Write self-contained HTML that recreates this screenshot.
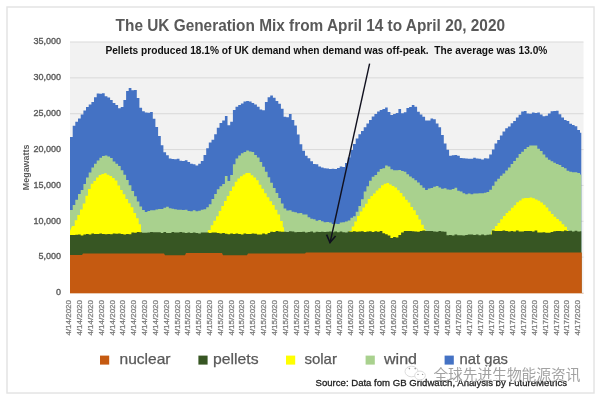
<!DOCTYPE html>
<html><head><meta charset="utf-8"><style>
html,body{margin:0;padding:0;background:#fff;}
svg{display:block;}
text{font-family:"Liberation Sans",sans-serif;}
.ax{font-size:9px;fill:#595959;stroke:#595959;stroke-width:0.35;}
.xl{font-size:8px;fill:#7a7a7a;stroke:#7a7a7a;stroke-width:0.25;}
.mw{font-size:9px;fill:#595959;font-weight:bold;}
.title{font-size:16px;font-weight:bold;fill:#595959;}
.ann{font-size:10.2px;font-weight:bold;fill:#111;}
.leg{font-size:14.5px;fill:#595959;stroke:#595959;stroke-width:0.25;}
.src{font-size:9.8px;fill:#222;stroke:#222;stroke-width:0.3;}
.wm text{font-family:"Liberation Sans","Noto Sans CJK SC",sans-serif;font-size:14.5px;}
</style></head><body>
<svg width="600" height="401" viewBox="0 0 600 401">
<rect x="0" y="0" width="600" height="401" fill="#ffffff"/>
<rect x="7" y="7" width="587" height="386" fill="#ffffff" stroke="#e4e4e4" stroke-width="1.5"/>
<rect x="70" y="42" width="513.5" height="251" fill="#f2f2f2"/>
<line x1="70" x2="583.5" y1="293.00" y2="293.00" stroke="#d9d9d9" stroke-width="1"/>
<line x1="70" x2="583.5" y1="257.14" y2="257.14" stroke="#d9d9d9" stroke-width="1"/>
<line x1="70" x2="583.5" y1="221.29" y2="221.29" stroke="#d9d9d9" stroke-width="1"/>
<line x1="70" x2="583.5" y1="185.43" y2="185.43" stroke="#d9d9d9" stroke-width="1"/>
<line x1="70" x2="583.5" y1="149.57" y2="149.57" stroke="#d9d9d9" stroke-width="1"/>
<line x1="70" x2="583.5" y1="113.71" y2="113.71" stroke="#d9d9d9" stroke-width="1"/>
<line x1="70" x2="583.5" y1="77.86" y2="77.86" stroke="#d9d9d9" stroke-width="1"/>
<line x1="70" x2="583.5" y1="42.00" y2="42.00" stroke="#d9d9d9" stroke-width="1"/>
<polygon points="70.0,293 70.0,137.0 72.7,137.0 72.7,125.7 75.3,125.7 75.3,121.8 78.0,121.8 78.0,118.5 80.7,118.5 80.7,114.4 83.4,114.4 83.4,110.5 86.0,110.5 86.0,106.9 88.7,106.9 88.7,104.6 91.4,104.6 91.4,102.0 94.0,102.0 94.0,97.2 96.7,97.2 96.7,93.6 99.4,93.6 99.4,93.7 102.0,93.7 102.0,93.2 104.7,93.2 104.7,96.2 107.4,96.2 107.4,97.4 110.1,97.4 110.1,100.0 112.7,100.0 112.7,103.1 115.4,103.1 115.4,104.9 118.1,104.9 118.1,108.2 120.7,108.2 120.7,107.0 123.4,107.0 123.4,100.0 126.1,100.0 126.1,91.0 128.7,91.0 128.7,88.1 131.4,88.1 131.4,90.3 134.1,90.3 134.1,90.0 136.8,90.0 136.8,98.1 139.4,98.1 139.4,107.8 142.1,107.8 142.1,111.2 144.8,111.2 144.8,112.5 147.4,112.5 147.4,112.7 150.1,112.7 150.1,111.9 152.8,111.9 152.8,118.8 155.4,118.8 155.4,127.0 158.1,127.0 158.1,135.9 160.8,135.9 160.8,145.2 163.4,145.2 163.4,152.2 166.1,152.2 166.1,155.3 168.8,155.3 168.8,158.5 171.5,158.5 171.5,159.1 174.1,159.1 174.1,159.3 176.8,159.3 176.8,158.8 179.5,158.8 179.5,160.8 182.1,160.8 182.1,161.1 184.8,161.1 184.8,160.3 187.5,160.3 187.5,161.9 190.1,161.9 190.1,163.7 192.8,163.7 192.8,164.3 195.5,164.3 195.5,165.4 198.2,165.4 198.2,163.7 200.8,163.7 200.8,160.9 203.5,160.9 203.5,155.1 206.2,155.1 206.2,148.2 208.8,148.2 208.8,142.5 211.5,142.5 211.5,139.7 214.2,139.7 214.2,134.3 216.8,134.3 216.8,127.8 219.5,127.8 219.5,122.9 222.2,122.9 222.2,120.6 224.9,120.6 224.9,115.9 227.5,115.9 227.5,125.2 230.2,125.2 230.2,121.7 232.9,121.7 232.9,110.0 235.5,110.0 235.5,106.7 238.2,106.7 238.2,105.0 240.9,105.0 240.9,103.4 243.5,103.4 243.5,101.6 246.2,101.6 246.2,101.1 248.9,101.1 248.9,101.5 251.6,101.5 251.6,102.9 254.2,102.9 254.2,104.5 256.9,104.5 256.9,106.7 259.6,106.7 259.6,109.6 262.2,109.6 262.2,110.3 264.9,110.3 264.9,102.1 267.6,102.1 267.6,97.3 270.2,97.3 270.2,95.6 272.9,95.6 272.9,97.7 275.6,97.7 275.6,100.9 278.3,100.9 278.3,103.7 280.9,103.7 280.9,108.8 283.6,108.8 283.6,116.8 286.3,116.8 286.3,117.2 288.9,117.2 288.9,114.1 291.6,114.1 291.6,119.9 294.3,119.9 294.3,125.6 296.9,125.6 296.9,134.5 299.6,134.5 299.6,144.2 302.3,144.2 302.3,150.7 305.0,150.7 305.0,155.8 307.6,155.8 307.6,158.2 310.3,158.2 310.3,161.2 313.0,161.2 313.0,164.1 315.6,164.1 315.6,164.3 318.3,164.3 318.3,166.5 321.0,166.5 321.0,167.4 323.6,167.4 323.6,168.3 326.3,168.3 326.3,168.6 329.0,168.6 329.0,169.0 331.7,169.0 331.7,168.7 334.3,168.7 334.3,169.0 337.0,169.0 337.0,168.1 339.7,168.1 339.7,166.4 342.3,166.4 342.3,166.9 345.0,166.9 345.0,163.1 347.7,163.1 347.7,157.4 350.4,157.4 350.4,150.0 353.0,150.0 353.0,143.9 355.7,143.9 355.7,138.6 358.4,138.6 358.4,134.2 361.0,134.2 361.0,131.0 363.7,131.0 363.7,127.2 366.4,127.2 366.4,123.5 369.0,123.5 369.0,119.9 371.7,119.9 371.7,116.4 374.4,116.4 374.4,114.1 377.1,114.1 377.1,111.4 379.7,111.4 379.7,110.1 382.4,110.1 382.4,109.0 385.1,109.0 385.1,107.6 387.7,107.6 387.7,112.1 390.4,112.1 390.4,115.0 393.1,115.0 393.1,114.0 395.7,114.0 395.7,113.1 398.4,113.1 398.4,109.1 401.1,109.1 401.1,113.2 403.8,113.2 403.8,112.2 406.4,112.2 406.4,108.1 409.1,108.1 409.1,107.1 411.8,107.1 411.8,105.0 414.4,105.0 414.4,106.7 417.1,106.7 417.1,111.7 419.8,111.7 419.8,114.5 422.4,114.5 422.4,116.7 425.1,116.7 425.1,120.4 427.8,120.4 427.8,120.4 430.5,120.4 430.5,118.6 433.1,118.6 433.1,119.3 435.8,119.3 435.8,123.4 438.5,123.4 438.5,127.3 441.1,127.3 441.1,135.1 443.8,135.1 443.8,143.4 446.5,143.4 446.5,149.7 449.1,149.7 449.1,155.8 451.8,155.8 451.8,155.2 454.5,155.2 454.5,154.9 457.2,154.9 457.2,155.7 459.8,155.7 459.8,158.0 462.5,158.0 462.5,158.2 465.2,158.2 465.2,158.4 467.8,158.4 467.8,158.7 470.5,158.7 470.5,158.7 473.2,158.7 473.2,157.7 475.8,157.7 475.8,158.4 478.5,158.4 478.5,158.8 481.2,158.8 481.2,159.6 483.9,159.6 483.9,158.2 486.5,158.2 486.5,158.5 489.2,158.5 489.2,154.5 491.9,154.5 491.9,149.4 494.5,149.4 494.5,143.4 497.2,143.4 497.2,140.0 499.9,140.0 499.9,135.4 502.5,135.4 502.5,131.6 505.2,131.6 505.2,128.3 507.9,128.3 507.9,126.4 510.6,126.4 510.6,123.3 513.2,123.3 513.2,120.9 515.9,120.9 515.9,117.6 518.6,117.6 518.6,114.8 521.2,114.8 521.2,111.5 523.9,111.5 523.9,111.1 526.6,111.1 526.6,113.6 529.2,113.6 529.2,113.7 531.9,113.7 531.9,112.5 534.6,112.5 534.6,113.1 537.3,113.1 537.3,112.4 539.9,112.4 539.9,114.5 542.6,114.5 542.6,116.3 545.3,116.3 545.3,115.8 547.9,115.8 547.9,113.4 550.6,113.4 550.6,111.2 553.3,111.2 553.3,111.1 555.9,111.1 555.9,110.7 558.6,110.7 558.6,114.3 561.3,114.3 561.3,117.6 564.0,117.6 564.0,120.1 566.6,120.1 566.6,121.0 569.3,121.0 569.3,123.8 572.0,123.8 572.0,125.0 574.6,125.0 574.6,126.3 577.3,126.3 577.3,130.0 580.0,130.0 580.0,132.8 581.3,132.8 581.3,134.0 581.3,293" fill="#4472C4"/>
<polygon points="70.0,293 70.0,210.0 72.7,210.0 72.7,204.9 75.3,204.9 75.3,199.7 78.0,199.7 78.0,193.9 80.7,193.9 80.7,189.9 83.4,189.9 83.4,184.0 86.0,184.0 86.0,177.5 88.7,177.5 88.7,172.6 91.4,172.6 91.4,167.6 94.0,167.6 94.0,163.7 96.7,163.7 96.7,160.4 99.4,160.4 99.4,157.7 102.0,157.7 102.0,156.0 104.7,156.0 104.7,155.6 107.4,155.6 107.4,156.4 110.1,156.4 110.1,158.0 112.7,158.0 112.7,161.4 115.4,161.4 115.4,163.8 118.1,163.8 118.1,166.0 120.7,166.0 120.7,170.3 123.4,170.3 123.4,174.8 126.1,174.8 126.1,179.9 128.7,179.9 128.7,185.2 131.4,185.2 131.4,191.0 134.1,191.0 134.1,196.2 136.8,196.2 136.8,201.4 139.4,201.4 139.4,206.6 142.1,206.6 142.1,209.9 144.8,209.9 144.8,211.9 147.4,211.9 147.4,211.0 150.1,211.0 150.1,210.2 152.8,210.2 152.8,210.2 155.4,210.2 155.4,209.4 158.1,209.4 158.1,209.1 160.8,209.1 160.8,209.0 163.4,209.0 163.4,207.7 166.1,207.7 166.1,206.8 168.8,206.8 168.8,208.3 171.5,208.3 171.5,208.7 174.1,208.7 174.1,209.2 176.8,209.2 176.8,209.7 179.5,209.7 179.5,209.8 182.1,209.8 182.1,210.1 184.8,210.1 184.8,209.8 187.5,209.8 187.5,210.9 190.1,210.9 190.1,211.2 192.8,211.2 192.8,210.3 195.5,210.3 195.5,211.3 198.2,211.3 198.2,210.7 200.8,210.7 200.8,209.8 203.5,209.8 203.5,209.3 206.2,209.3 206.2,207.3 208.8,207.3 208.8,204.2 211.5,204.2 211.5,199.0 214.2,199.0 214.2,194.1 216.8,194.1 216.8,189.2 219.5,189.2 219.5,186.2 222.2,186.2 222.2,183.9 224.9,183.9 224.9,175.9 227.5,175.9 227.5,181.1 230.2,181.1 230.2,175.0 232.9,175.0 232.9,164.3 235.5,164.3 235.5,158.4 238.2,158.4 238.2,155.4 240.9,155.4 240.9,153.2 243.5,153.2 243.5,152.1 246.2,152.1 246.2,150.5 248.9,150.5 248.9,151.6 251.6,151.6 251.6,151.9 254.2,151.9 254.2,155.0 256.9,155.0 256.9,157.4 259.6,157.4 259.6,162.0 262.2,162.0 262.2,166.8 264.9,166.8 264.9,171.8 267.6,171.8 267.6,177.2 270.2,177.2 270.2,182.7 272.9,182.7 272.9,188.0 275.6,188.0 275.6,192.9 278.3,192.9 278.3,198.1 280.9,198.1 280.9,203.5 283.6,203.5 283.6,208.4 286.3,208.4 286.3,210.4 288.9,210.4 288.9,210.2 291.6,210.2 291.6,211.8 294.3,211.8 294.3,212.2 296.9,212.2 296.9,213.2 299.6,213.2 299.6,213.0 302.3,213.0 302.3,214.5 305.0,214.5 305.0,214.4 307.6,214.4 307.6,217.3 310.3,217.3 310.3,218.7 313.0,218.7 313.0,219.2 315.6,219.2 315.6,220.7 318.3,220.7 318.3,220.1 321.0,220.1 321.0,221.2 323.6,221.2 323.6,222.2 326.3,222.2 326.3,221.9 329.0,221.9 329.0,222.4 331.7,222.4 331.7,223.9 334.3,223.9 334.3,223.8 337.0,223.8 337.0,223.9 339.7,223.9 339.7,222.4 342.3,222.4 342.3,222.3 345.0,222.3 345.0,221.5 347.7,221.5 347.7,220.5 350.4,220.5 350.4,217.8 353.0,217.8 353.0,216.2 355.7,216.2 355.7,211.7 358.4,211.7 358.4,206.0 361.0,206.0 361.0,199.2 363.7,199.2 363.7,191.6 366.4,191.6 366.4,186.2 369.0,186.2 369.0,180.8 371.7,180.8 371.7,176.8 374.4,176.8 374.4,174.9 377.1,174.9 377.1,171.8 379.7,171.8 379.7,169.1 382.4,169.1 382.4,168.2 385.1,168.2 385.1,165.6 387.7,165.6 387.7,166.5 390.4,166.5 390.4,169.3 393.1,169.3 393.1,170.2 395.7,170.2 395.7,170.3 398.4,170.3 398.4,169.9 401.1,169.9 401.1,171.1 403.8,171.1 403.8,171.8 406.4,171.8 406.4,174.2 409.1,174.2 409.1,176.4 411.8,176.4 411.8,178.2 414.4,178.2 414.4,180.2 417.1,180.2 417.1,182.5 419.8,182.5 419.8,185.3 422.4,185.3 422.4,187.7 425.1,187.7 425.1,189.9 427.8,189.9 427.8,188.5 430.5,188.5 430.5,188.1 433.1,188.1 433.1,186.7 435.8,186.7 435.8,186.1 438.5,186.1 438.5,187.4 441.1,187.4 441.1,188.8 443.8,188.8 443.8,188.2 446.5,188.2 446.5,189.4 449.1,189.4 449.1,189.7 451.8,189.7 451.8,189.1 454.5,189.1 454.5,187.8 457.2,187.8 457.2,190.7 459.8,190.7 459.8,191.5 462.5,191.5 462.5,193.3 465.2,193.3 465.2,194.3 467.8,194.3 467.8,193.6 470.5,193.6 470.5,194.3 473.2,194.3 473.2,193.6 475.8,193.6 475.8,193.4 478.5,193.4 478.5,193.3 481.2,193.3 481.2,193.3 483.9,193.3 483.9,192.7 486.5,192.7 486.5,192.0 489.2,192.0 489.2,189.7 491.9,189.7 491.9,185.7 494.5,185.7 494.5,181.6 497.2,181.6 497.2,178.8 499.9,178.8 499.9,175.7 502.5,175.7 502.5,173.4 505.2,173.4 505.2,170.4 507.9,170.4 507.9,167.6 510.6,167.6 510.6,164.1 513.2,164.1 513.2,161.0 515.9,161.0 515.9,157.8 518.6,157.8 518.6,154.1 521.2,154.1 521.2,151.7 523.9,151.7 523.9,149.1 526.6,149.1 526.6,146.9 529.2,146.9 529.2,145.4 531.9,145.4 531.9,145.5 534.6,145.5 534.6,145.6 537.3,145.6 537.3,148.8 539.9,148.8 539.9,150.9 542.6,150.9 542.6,154.5 545.3,154.5 545.3,157.6 547.9,157.6 547.9,159.8 550.6,159.8 550.6,161.2 553.3,161.2 553.3,162.7 555.9,162.7 555.9,163.9 558.6,163.9 558.6,165.0 561.3,165.0 561.3,167.1 564.0,167.1 564.0,168.2 566.6,168.2 566.6,170.8 569.3,170.8 569.3,171.7 572.0,171.7 572.0,172.3 574.6,172.3 574.6,172.3 577.3,172.3 577.3,172.9 580.0,172.9 580.0,174.4 581.3,174.4 581.3,175.0 581.3,293" fill="#A9D18E"/>
<polygon points="70.0,293 70.0,231.0 72.0,226.0 74.7,226.0 74.7,220.3 77.3,220.3 77.3,214.9 80.0,214.9 80.0,209.5 82.7,209.5 82.7,203.4 85.4,203.4 85.4,195.8 88.0,195.8 88.0,188.9 90.7,188.9 90.7,183.7 93.4,183.7 93.4,181.0 96.0,181.0 96.0,177.6 98.7,177.6 98.7,175.1 101.4,175.1 101.4,174.0 104.0,174.0 104.0,173.2 106.7,173.2 106.7,174.7 109.4,174.7 109.4,176.0 112.1,176.0 112.1,178.0 114.7,178.0 114.7,180.6 117.4,180.6 117.4,185.4 120.1,185.4 120.1,190.1 122.7,190.1 122.7,194.2 125.4,194.2 125.4,198.9 128.1,198.9 128.1,203.3 130.7,203.3 130.7,207.3 133.4,207.3 133.4,213.1 136.1,213.1 136.1,218.2 138.7,218.2 138.7,224.2 141.0,224.2 141.0,230.0 142.0,235.0 142.0,293" fill="#FFFF00"/>
<polygon points="207.0,293 207.0,235.0 208.0,230.0 210.7,230.0 210.7,225.3 213.3,225.3 213.3,220.8 216.0,220.8 216.0,216.2 218.7,216.2 218.7,211.0 221.3,211.0 221.3,206.0 224.0,206.0 224.0,200.9 226.7,200.9 226.7,196.0 229.4,196.0 229.4,191.0 232.0,191.0 232.0,186.6 234.7,186.6 234.7,181.7 237.4,181.7 237.4,178.4 240.0,178.4 240.0,176.2 242.7,176.2 242.7,174.4 245.4,174.4 245.4,173.1 248.0,173.1 248.0,173.1 250.7,173.1 250.7,175.2 253.4,175.2 253.4,177.4 256.1,177.4 256.1,180.3 258.7,180.3 258.7,184.8 261.4,184.8 261.4,188.8 264.1,188.8 264.1,193.2 266.7,193.2 266.7,197.3 269.4,197.3 269.4,201.2 272.1,201.2 272.1,205.1 274.7,205.1 274.7,209.7 277.4,209.7 277.4,214.5 280.1,214.5 280.1,221.0 282.8,221.0 282.8,227.2 284.0,227.2 284.0,230.0 285.0,235.0 285.0,293" fill="#FFFF00"/>
<polygon points="348.0,293 348.0,235.0 349.0,231.0 351.7,231.0 351.7,226.6 354.3,226.6 354.3,221.5 357.0,221.5 357.0,216.1 359.7,216.1 359.7,211.4 362.4,211.4 362.4,207.5 365.0,207.5 365.0,203.8 367.7,203.8 367.7,199.1 370.4,199.1 370.4,196.0 373.0,196.0 373.0,193.5 375.7,193.5 375.7,190.4 378.4,190.4 378.4,188.2 381.0,188.2 381.0,185.3 383.7,185.3 383.7,183.7 386.4,183.7 386.4,183.0 389.1,183.0 389.1,184.6 391.7,184.6 391.7,186.1 394.4,186.1 394.4,187.5 397.1,187.5 397.1,190.3 399.7,190.3 399.7,193.1 402.4,193.1 402.4,196.5 405.1,196.5 405.1,199.7 407.7,199.7 407.7,202.6 410.4,202.6 410.4,206.9 413.1,206.9 413.1,210.3 415.8,210.3 415.8,215.1 418.4,215.1 418.4,219.5 421.1,219.5 421.1,224.7 423.8,224.7 423.8,229.1 425.4,229.1 425.4,231.0 427.0,235.0 427.0,293" fill="#FFFF00"/>
<polygon points="491.0,293 491.0,235.0 492.2,229.2 494.9,229.2 494.9,226.1 497.5,226.1 497.5,222.9 500.2,222.9 500.2,219.3 502.9,219.3 502.9,216.1 505.6,216.1 505.6,213.0 508.2,213.0 508.2,210.7 510.9,210.7 510.9,207.7 513.6,207.7 513.6,205.2 516.2,205.2 516.2,202.3 518.9,202.3 518.9,200.5 521.6,200.5 521.6,198.4 524.2,198.4 524.2,197.9 526.9,197.9 526.9,197.9 529.6,197.9 529.6,197.6 532.2,197.6 532.2,198.2 534.9,198.2 534.9,199.6 537.6,199.6 537.6,200.7 540.3,200.7 540.3,202.6 542.9,202.6 542.9,204.7 545.6,204.7 545.6,207.6 548.3,207.6 548.3,211.3 550.9,211.3 550.9,213.9 553.6,213.9 553.6,216.7 556.3,216.7 556.3,218.9 558.9,218.9 558.9,221.2 561.6,221.2 561.6,224.2 564.3,224.2 564.3,226.7 567.0,226.7 567.0,230.1 568.0,230.1 568.0,232.0 569.0,235.0 569.0,293" fill="#FFFF00"/>
<polygon points="70.0,293 70.0,235.0 72.7,235.0 72.7,235.0 75.3,235.0 75.3,234.8 78.0,234.8 78.0,234.6 80.7,234.6 80.7,235.4 83.4,235.4 83.4,234.4 86.0,234.4 86.0,234.0 88.7,234.0 88.7,234.5 91.4,234.5 91.4,233.5 94.0,233.5 94.0,234.1 96.7,234.1 96.7,234.1 99.4,234.1 99.4,233.4 102.0,233.4 102.0,233.9 104.7,233.9 104.7,234.2 107.4,234.2 107.4,233.9 110.1,233.9 110.1,234.3 112.7,234.3 112.7,233.6 115.4,233.6 115.4,233.7 118.1,233.7 118.1,233.5 120.7,233.5 120.7,234.0 123.4,234.0 123.4,234.5 126.1,234.5 126.1,234.1 128.7,234.1 128.7,234.3 131.4,234.3 131.4,232.4 134.1,232.4 134.1,232.8 136.8,232.8 136.8,232.0 139.4,232.0 139.4,232.2 142.1,232.2 142.1,232.7 144.8,232.7 144.8,232.8 147.4,232.8 147.4,232.4 150.1,232.4 150.1,232.0 152.8,232.0 152.8,232.2 155.4,232.2 155.4,232.2 158.1,232.2 158.1,232.2 160.8,232.2 160.8,232.9 163.4,232.9 163.4,232.1 166.1,232.1 166.1,233.0 168.8,233.0 168.8,233.0 171.5,233.0 171.5,232.0 174.1,232.0 174.1,232.4 176.8,232.4 176.8,232.5 179.5,232.5 179.5,231.9 182.1,231.9 182.1,232.4 184.8,232.4 184.8,233.0 187.5,233.0 187.5,232.5 190.1,232.5 190.1,233.1 192.8,233.1 192.8,232.5 195.5,232.5 195.5,233.1 198.2,233.1 198.2,233.5 200.8,233.5 200.8,232.6 203.5,232.6 203.5,232.4 206.2,232.4 206.2,232.5 208.8,232.5 208.8,233.0 211.5,233.0 211.5,232.4 214.2,232.4 214.2,232.5 216.8,232.5 216.8,233.0 219.5,233.0 219.5,233.5 222.2,233.5 222.2,232.9 224.9,232.9 224.9,233.7 227.5,233.7 227.5,234.2 230.2,234.2 230.2,233.5 232.9,233.5 232.9,234.1 235.5,234.1 235.5,233.6 238.2,233.6 238.2,234.1 240.9,234.1 240.9,234.5 243.5,234.5 243.5,233.5 246.2,233.5 246.2,234.1 248.9,234.1 248.9,234.1 251.6,234.1 251.6,233.6 254.2,233.6 254.2,233.7 256.9,233.7 256.9,234.6 259.6,234.6 259.6,234.6 262.2,234.6 262.2,233.5 264.9,233.5 264.9,234.2 267.6,234.2 267.6,232.9 270.2,232.9 270.2,231.7 272.9,231.7 272.9,231.9 275.6,231.9 275.6,231.0 278.3,231.0 278.3,231.4 280.9,231.4 280.9,231.8 283.6,231.8 283.6,231.8 286.3,231.8 286.3,232.0 288.9,232.0 288.9,231.2 291.6,231.2 291.6,231.6 294.3,231.6 294.3,232.3 296.9,232.3 296.9,232.0 299.6,232.0 299.6,231.9 302.3,231.9 302.3,231.8 305.0,231.8 305.0,232.6 307.6,232.6 307.6,232.1 310.3,232.1 310.3,231.4 313.0,231.4 313.0,232.4 315.6,232.4 315.6,231.8 318.3,231.8 318.3,231.9 321.0,231.9 321.0,231.7 323.6,231.7 323.6,231.9 326.3,231.9 326.3,231.8 329.0,231.8 329.0,231.5 331.7,231.5 331.7,232.2 334.3,232.2 334.3,231.5 337.0,231.5 337.0,232.3 339.7,232.3 339.7,231.4 342.3,231.4 342.3,232.3 345.0,232.3 345.0,232.4 347.7,232.4 347.7,231.5 350.4,231.5 350.4,231.8 353.0,231.8 353.0,231.2 355.7,231.2 355.7,231.8 358.4,231.8 358.4,231.4 361.0,231.4 361.0,231.2 363.7,231.2 363.7,232.1 366.4,232.1 366.4,231.4 369.0,231.4 369.0,231.3 371.7,231.3 371.7,231.9 374.4,231.9 374.4,231.3 377.1,231.3 377.1,231.7 379.7,231.7 379.7,231.1 382.4,231.1 382.4,233.3 385.1,233.3 385.1,234.2 387.7,234.2 387.7,235.5 390.4,235.5 390.4,238.1 393.1,238.1 393.1,237.1 395.7,237.1 395.7,237.4 398.4,237.4 398.4,235.1 401.1,235.1 401.1,232.4 403.8,232.4 403.8,230.9 406.4,230.9 406.4,230.9 409.1,230.9 409.1,231.0 411.8,231.0 411.8,231.2 414.4,231.2 414.4,231.4 417.1,231.4 417.1,231.7 419.8,231.7 419.8,230.9 422.4,230.9 422.4,230.6 425.1,230.6 425.1,231.1 427.8,231.1 427.8,231.1 430.5,231.1 430.5,231.0 433.1,231.0 433.1,231.6 435.8,231.6 435.8,231.7 438.5,231.7 438.5,231.0 441.1,231.0 441.1,231.4 443.8,231.4 443.8,231.7 446.5,231.7 446.5,235.3 449.1,235.3 449.1,234.9 451.8,234.9 451.8,235.5 454.5,235.5 454.5,234.6 457.2,234.6 457.2,235.3 459.8,235.3 459.8,235.3 462.5,235.3 462.5,235.5 465.2,235.5 465.2,235.0 467.8,235.0 467.8,234.5 470.5,234.5 470.5,234.5 473.2,234.5 473.2,235.0 475.8,235.0 475.8,234.6 478.5,234.6 478.5,235.2 481.2,235.2 481.2,234.5 483.9,234.5 483.9,235.3 486.5,235.3 486.5,234.7 489.2,234.7 489.2,234.4 491.9,234.4 491.9,230.6 494.5,230.6 494.5,230.9 497.2,230.9 497.2,231.1 499.9,231.1 499.9,230.9 502.5,230.9 502.5,230.6 505.2,230.6 505.2,231.0 507.9,231.0 507.9,231.5 510.6,231.5 510.6,231.0 513.2,231.0 513.2,231.5 515.9,231.5 515.9,230.4 518.6,230.4 518.6,231.6 521.2,231.6 521.2,231.5 523.9,231.5 523.9,231.1 526.6,231.1 526.6,231.0 529.2,231.0 529.2,231.0 531.9,231.0 531.9,231.5 534.6,231.5 534.6,230.5 537.3,230.5 537.3,232.6 539.9,232.6 539.9,232.5 542.6,232.5 542.6,232.2 545.3,232.2 545.3,232.7 547.9,232.7 547.9,232.7 550.6,232.7 550.6,231.9 553.3,231.9 553.3,231.2 555.9,231.2 555.9,230.9 558.6,230.9 558.6,231.0 561.3,231.0 561.3,231.2 564.0,231.2 564.0,230.5 566.6,230.5 566.6,231.1 569.3,231.1 569.3,230.8 572.0,230.8 572.0,231.5 574.6,231.5 574.6,230.7 577.3,230.7 577.3,231.4 580.0,231.4 580.0,231.3 581.3,231.3 581.3,236.0 581.3,293" fill="#375623"/>
<polygon points="70.0,293 70.0,255.0 82.0,255.0 83.0,253.6 164.0,253.6 165.0,255.3 185.0,255.3 186.0,253.0 222.0,253.0 223.0,255.3 247.0,255.3 248.0,253.5 305.0,253.5 306.0,252.5 425.0,252.5 426.0,252.4 581.8,252.4 581.8,293" fill="#C55A11"/>
<line x1="70" x2="583.5" y1="293.5" y2="293.5" stroke="#e9c9b0" stroke-width="1"/>
<text x="61" y="295.3" text-anchor="end" class="ax">0</text>
<text x="61" y="259.4" text-anchor="end" class="ax">5,000</text>
<text x="61" y="223.6" text-anchor="end" class="ax">10,000</text>
<text x="61" y="187.7" text-anchor="end" class="ax">15,000</text>
<text x="61" y="151.9" text-anchor="end" class="ax">20,000</text>
<text x="61" y="116.0" text-anchor="end" class="ax">25,000</text>
<text x="61" y="80.2" text-anchor="end" class="ax">30,000</text>
<text x="61" y="44.3" text-anchor="end" class="ax">35,000</text>
<text transform="translate(71.20,300) rotate(-90)" text-anchor="end" class="xl">4/14/2020</text>
<text transform="translate(82.03,300) rotate(-90)" text-anchor="end" class="xl">4/14/2020</text>
<text transform="translate(92.86,300) rotate(-90)" text-anchor="end" class="xl">4/14/2020</text>
<text transform="translate(103.69,300) rotate(-90)" text-anchor="end" class="xl">4/14/2020</text>
<text transform="translate(114.52,300) rotate(-90)" text-anchor="end" class="xl">4/14/2020</text>
<text transform="translate(125.35,300) rotate(-90)" text-anchor="end" class="xl">4/14/2020</text>
<text transform="translate(136.18,300) rotate(-90)" text-anchor="end" class="xl">4/14/2020</text>
<text transform="translate(147.01,300) rotate(-90)" text-anchor="end" class="xl">4/14/2020</text>
<text transform="translate(157.84,300) rotate(-90)" text-anchor="end" class="xl">4/14/2020</text>
<text transform="translate(168.67,300) rotate(-90)" text-anchor="end" class="xl">4/14/2020</text>
<text transform="translate(179.50,300) rotate(-90)" text-anchor="end" class="xl">4/15/2020</text>
<text transform="translate(190.33,300) rotate(-90)" text-anchor="end" class="xl">4/15/2020</text>
<text transform="translate(201.16,300) rotate(-90)" text-anchor="end" class="xl">4/15/2020</text>
<text transform="translate(211.99,300) rotate(-90)" text-anchor="end" class="xl">4/15/2020</text>
<text transform="translate(222.82,300) rotate(-90)" text-anchor="end" class="xl">4/15/2020</text>
<text transform="translate(233.65,300) rotate(-90)" text-anchor="end" class="xl">4/15/2020</text>
<text transform="translate(244.48,300) rotate(-90)" text-anchor="end" class="xl">4/15/2020</text>
<text transform="translate(255.31,300) rotate(-90)" text-anchor="end" class="xl">4/15/2020</text>
<text transform="translate(266.14,300) rotate(-90)" text-anchor="end" class="xl">4/15/2020</text>
<text transform="translate(276.97,300) rotate(-90)" text-anchor="end" class="xl">4/15/2020</text>
<text transform="translate(287.80,300) rotate(-90)" text-anchor="end" class="xl">4/15/2020</text>
<text transform="translate(298.63,300) rotate(-90)" text-anchor="end" class="xl">4/15/2020</text>
<text transform="translate(309.46,300) rotate(-90)" text-anchor="end" class="xl">4/15/2020</text>
<text transform="translate(320.29,300) rotate(-90)" text-anchor="end" class="xl">4/16/2020</text>
<text transform="translate(331.11,300) rotate(-90)" text-anchor="end" class="xl">4/16/2020</text>
<text transform="translate(341.94,300) rotate(-90)" text-anchor="end" class="xl">4/16/2020</text>
<text transform="translate(352.77,300) rotate(-90)" text-anchor="end" class="xl">4/16/2020</text>
<text transform="translate(363.60,300) rotate(-90)" text-anchor="end" class="xl">4/16/2020</text>
<text transform="translate(374.43,300) rotate(-90)" text-anchor="end" class="xl">4/16/2020</text>
<text transform="translate(385.26,300) rotate(-90)" text-anchor="end" class="xl">4/16/2020</text>
<text transform="translate(396.09,300) rotate(-90)" text-anchor="end" class="xl">4/16/2020</text>
<text transform="translate(406.92,300) rotate(-90)" text-anchor="end" class="xl">4/16/2020</text>
<text transform="translate(417.75,300) rotate(-90)" text-anchor="end" class="xl">4/16/2020</text>
<text transform="translate(428.58,300) rotate(-90)" text-anchor="end" class="xl">4/16/2020</text>
<text transform="translate(439.41,300) rotate(-90)" text-anchor="end" class="xl">4/16/2020</text>
<text transform="translate(450.24,300) rotate(-90)" text-anchor="end" class="xl">4/16/2020</text>
<text transform="translate(461.07,300) rotate(-90)" text-anchor="end" class="xl">4/17/2020</text>
<text transform="translate(471.90,300) rotate(-90)" text-anchor="end" class="xl">4/17/2020</text>
<text transform="translate(482.73,300) rotate(-90)" text-anchor="end" class="xl">4/17/2020</text>
<text transform="translate(493.56,300) rotate(-90)" text-anchor="end" class="xl">4/17/2020</text>
<text transform="translate(504.39,300) rotate(-90)" text-anchor="end" class="xl">4/17/2020</text>
<text transform="translate(515.22,300) rotate(-90)" text-anchor="end" class="xl">4/17/2020</text>
<text transform="translate(526.05,300) rotate(-90)" text-anchor="end" class="xl">4/17/2020</text>
<text transform="translate(536.88,300) rotate(-90)" text-anchor="end" class="xl">4/17/2020</text>
<text transform="translate(547.71,300) rotate(-90)" text-anchor="end" class="xl">4/17/2020</text>
<text transform="translate(558.54,300) rotate(-90)" text-anchor="end" class="xl">4/17/2020</text>
<text transform="translate(569.37,300) rotate(-90)" text-anchor="end" class="xl">4/17/2020</text>
<text transform="translate(580.20,300) rotate(-90)" text-anchor="end" class="xl">4/17/2020</text>
<text transform="translate(29,167.4) rotate(-90)" text-anchor="middle" class="mw" textLength="45.6" lengthAdjust="spacingAndGlyphs">Megawatts</text>
<text x="115.6" y="30.6" class="title" textLength="389.4" lengthAdjust="spacingAndGlyphs">The UK Generation Mix from April 14 to April 20, 2020</text>
<text x="105.4" y="54.4" class="ann" textLength="442" lengthAdjust="spacingAndGlyphs">Pellets produced 18.1% of UK demand when demand was off-peak.&#160; The average was 13.0%</text>
<line x1="369.6" y1="63.7" x2="330" y2="243" stroke="#10101e" stroke-width="1.4"/>
<polyline points="326.6,234.6 330,242.6 335.6,236" fill="none" stroke="#10101e" stroke-width="1.6" stroke-linejoin="miter"/>
<rect x="100" y="355.6" width="9.2" height="9" fill="#C55A11"/>
<text x="119.5" y="364.4" class="leg" textLength="51" lengthAdjust="spacingAndGlyphs">nuclear</text>
<rect x="198.4" y="355.6" width="9.2" height="9" fill="#375623"/>
<text x="213" y="364.4" class="leg" textLength="45.6" lengthAdjust="spacingAndGlyphs">pellets</text>
<rect x="286" y="355.6" width="9.2" height="9" fill="#FFFF00"/>
<text x="304.4" y="364.4" class="leg" textLength="32.6" lengthAdjust="spacingAndGlyphs">solar</text>
<rect x="365.6" y="355.6" width="9.2" height="9" fill="#A9D18E"/>
<text x="384" y="364.4" class="leg" textLength="33" lengthAdjust="spacingAndGlyphs">wind</text>
<rect x="444.6" y="355.6" width="9.2" height="9" fill="#4472C4"/>
<text x="459.6" y="364.4" class="leg" textLength="48.4" lengthAdjust="spacingAndGlyphs">nat gas</text>
<text x="315.5" y="385.5" class="src" textLength="251.5" lengthAdjust="spacingAndGlyphs">Source: Data fom GB Gridwatch, Analysis by FutureMetrics</text>
<g class="wm"><text x="432.6" y="379.1" fill="#ffffff" stroke="#ffffff" stroke-width="1.2" textLength="147" lengthAdjust="spacingAndGlyphs">全球先进生物能源资讯</text><text x="433.4" y="379.9" fill="#a2a2a2" textLength="147" lengthAdjust="spacingAndGlyphs">全球先进生物能源资讯</text></g>
<g fill="#ffffff" stroke="#d4d4d4" stroke-width="0.8"><ellipse cx="411.5" cy="371.5" rx="6.5" ry="5.3"/><ellipse cx="420" cy="375.5" rx="5.3" ry="4.4"/></g><g fill="#9a9a9a"><circle cx="409.4" cy="368.6" r="0.8"/><circle cx="415.2" cy="368.6" r="0.8"/><circle cx="418" cy="374.4" r="0.7"/><circle cx="422.6" cy="374.4" r="0.7"/></g>
</svg>
</body></html>
